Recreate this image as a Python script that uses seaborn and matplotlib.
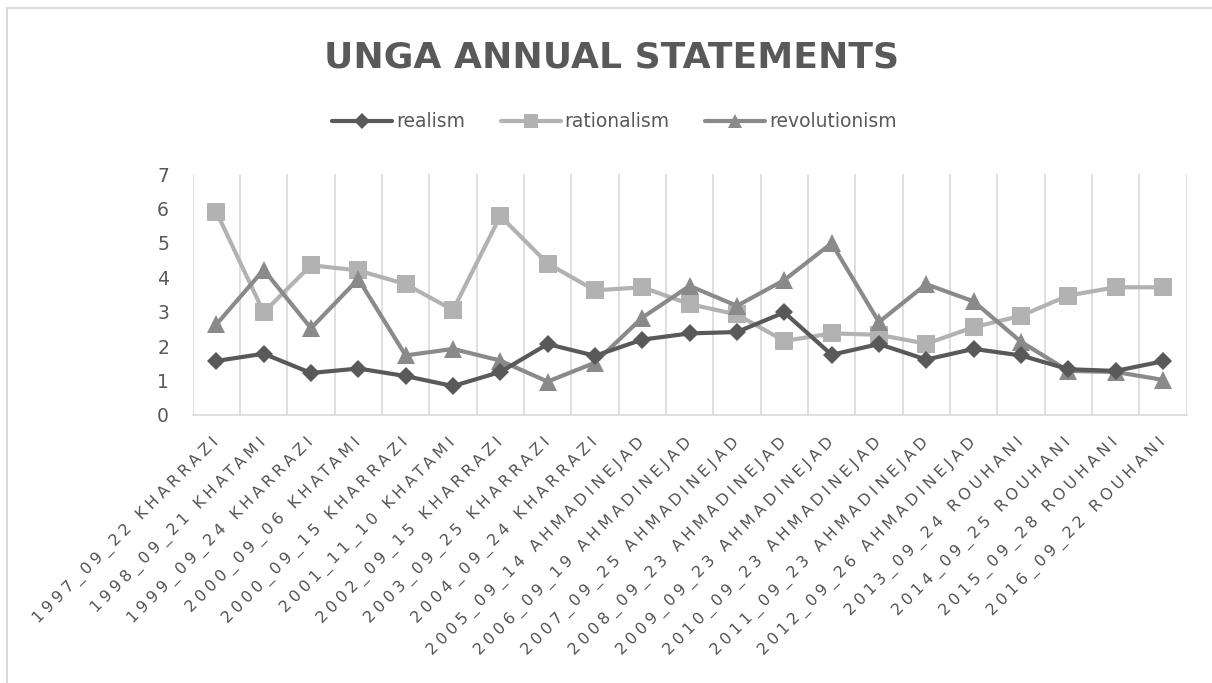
import numpy as np
import pandas as pd
import matplotlib
matplotlib.use("Agg")
import matplotlib.pyplot as plt
import seaborn as sns
from matplotlib.lines import Line2D
from matplotlib.path import Path
from matplotlib.patheffects import AbstractPathEffect
from matplotlib.textpath import TextToPath

# ---------------- data ----------------
categories = [
    "1997_09_22 KHARRAZI", "1998_09_21 KHATAMI", "1999_09_24 KHARRAZI",
    "2000_09_06 KHATAMI", "2000_09_15 KHARRAZI", "2001_11_10 KHATAMI",
    "2002_09_15 KHARRAZI", "2003_09_25 KHARRAZI", "2004_09_24 KHARRAZI",
    "2005_09_14 AHMADINEJAD", "2006_09_19 AHMADINEJAD", "2007_09_25 AHMADINEJAD",
    "2008_09_23 AHMADINEJAD", "2009_09_23 AHMADINEJAD", "2010_09_23 AHMADINEJAD",
    "2011_09_23 AHMADINEJAD", "2012_09_26 AHMADINEJAD", "2013_09_24 ROUHANI",
    "2014_09_25 ROUHANI", "2015_09_28 ROUHANI", "2016_09_22 ROUHANI",
]
realism = [1.57, 1.78, 1.22, 1.35, 1.13, 0.84, 1.25, 2.06, 1.72, 2.19, 2.37,
           2.41, 2.98, 1.75, 2.06, 1.61, 1.92, 1.73, 1.33, 1.28, 1.56]
rationalism = [5.90, 2.98, 4.35, 4.20, 3.80, 3.05, 5.78, 4.40, 3.62, 3.71, 3.22,
               2.92, 2.15, 2.37, 2.33, 2.07, 2.55, 2.88, 3.47, 3.71, 3.71]
revolutionism = [2.63, 4.22, 2.52, 3.95, 1.73, 1.92, 1.58, 0.97, 1.52, 2.83, 3.75,
                 3.17, 3.92, 4.99, 2.70, 3.80, 3.30, 2.13, 1.28, 1.25, 1.02]
series_names = ["realism", "rationalism", "revolutionism"]

# ---------------- styling ----------------
colors = {"realism": "#595959", "rationalism": "#b2b2b2", "revolutionism": "#8a8a8a"}
markers = {"realism": "D", "rationalism": "s", "revolutionism": "^"}
msizes = {"realism": 9.0, "rationalism": 12.5, "revolutionism": 12.5}
text_color = "#595959"
grid_color = "#d9d9d9"

_t2p = TextToPath()


class LetterSpacing(AbstractPathEffect):
    """Constant extra spacing between glyphs (right end of the text kept fixed)."""

    def __init__(self, text, prop, spacing_em=0.25):
        super().__init__()
        fp = prop.copy()
        fp.set_size(_t2p.FONT_SCALE)
        bounds = []
        for k in range(1, len(text)):
            w, _, _ = _t2p.get_text_width_height_descent(text[:k], fp, ismath=False)
            bounds.append(w)
        self.bounds = np.array(bounds)
        self.n = len(text)
        self.spacing = spacing_em * _t2p.FONT_SCALE

    def draw_path(self, renderer, gc, tpath, affine, rgbFace=None):
        codes = tpath.codes
        verts = np.array(tpath.vertices, dtype=float).copy()
        if codes is None or len(verts) == 0:
            renderer.draw_path(gc, tpath, affine, rgbFace)
            return
        valid = codes != Path.CLOSEPOLY
        starts = list(np.where(codes == Path.MOVETO)[0]) + [len(verts)]
        for a, b in zip(starts[:-1], starts[1:]):
            seg_valid = valid[a:b]
            if not seg_valid.any():
                continue
            xs = verts[a:b, 0][seg_valid]
            centre = 0.5 * (xs.min() + xs.max())
            idx = int(np.searchsorted(self.bounds, centre, side="right"))
            verts[a:b, 0] += (idx - (self.n - 1)) * self.spacing
        renderer.draw_path(gc, Path(verts, codes), affine, rgbFace)


sns.set_theme(style="white")
plt.rcParams["font.family"] = ["DejaVu Sans"]

df = pd.DataFrame({
    "idx": np.arange(len(categories)),
    "category": categories,
    "realism": realism,
    "rationalism": rationalism,
    "revolutionism": revolutionism,
})

fig = plt.figure(figsize=(12.12, 6.83), dpi=100)
ax = fig.add_axes([0.159, 0.3924, 0.979 - 0.159, 0.7452 - 0.3924])

zorders = {"realism": 5, "rationalism": 3, "revolutionism": 4}
for name in series_names:
    sns.lineplot(data=df, x="idx", y=name, ax=ax, color=colors[name],
                 marker=markers[name], markersize=msizes[name],
                 markeredgewidth=0, linewidth=3.0, label=name, legend=False,
                 zorder=zorders[name])

ax.set_xlim(-0.5, len(categories) - 0.5)
ax.set_ylim(0, 7)
ax.set_yticks(range(0, 8))
ax.set_xticks(np.arange(len(categories)))
ax.set_xticklabels(categories)
ax.set_xticks(np.arange(-0.5, len(categories), 1.0), minor=True)
ax.grid(False)
ax.grid(which="minor", axis="x", color=grid_color, linewidth=1.2)
ax.set_axisbelow(True)
ax.set_xlabel("")
ax.set_ylabel("")
for s in ["top", "right", "left"]:
    ax.spines[s].set_visible(False)
ax.spines["bottom"].set_color(grid_color)
ax.spines["bottom"].set_linewidth(1.2)
ax.tick_params(axis="both", which="both", length=0)
ax.tick_params(axis="y", labelsize=13.5, labelcolor=text_color, pad=17)
ax.tick_params(axis="x", labelsize=11.5, labelcolor=text_color, pad=18)
for lab in ax.get_xticklabels():
    lab.set_rotation(45)
    lab.set_ha("right")
    lab.set_va("center")
    lab.set_rotation_mode("anchor")
    lab.set_path_effects([LetterSpacing(lab.get_text(), lab.get_fontproperties(), 0.25)])

# title
fig.text(0.505, 0.9165, "UNGA ANNUAL STATEMENTS", ha="center", va="center",
         fontsize=26, fontweight="bold", color=text_color)

# legend
handles = [Line2D([0], [0], color=colors[n], marker=markers[n], linewidth=3.0,
                  markersize=msizes[n] * 0.85, markeredgewidth=0) for n in series_names]
fig.legend(handles, series_names, loc="center", bbox_to_anchor=(0.507, 0.8214),
           ncol=3, frameon=False, fontsize=13.5, handlelength=3.2,
           handletextpad=0.2, columnspacing=1.9, labelcolor=text_color)

# chart border (top and left edges visible)
fig.add_artist(Line2D([0.0058, 1.0], [1 - 7.5 / 683, 1 - 7.5 / 683],
                      transform=fig.transFigure, color=grid_color, linewidth=1.4))
fig.add_artist(Line2D([0.0058, 0.0058], [0.0, 1 - 7.5 / 683],
                      transform=fig.transFigure, color=grid_color, linewidth=1.4))

fig.savefig("out.png", dpi=100, facecolor="white")
